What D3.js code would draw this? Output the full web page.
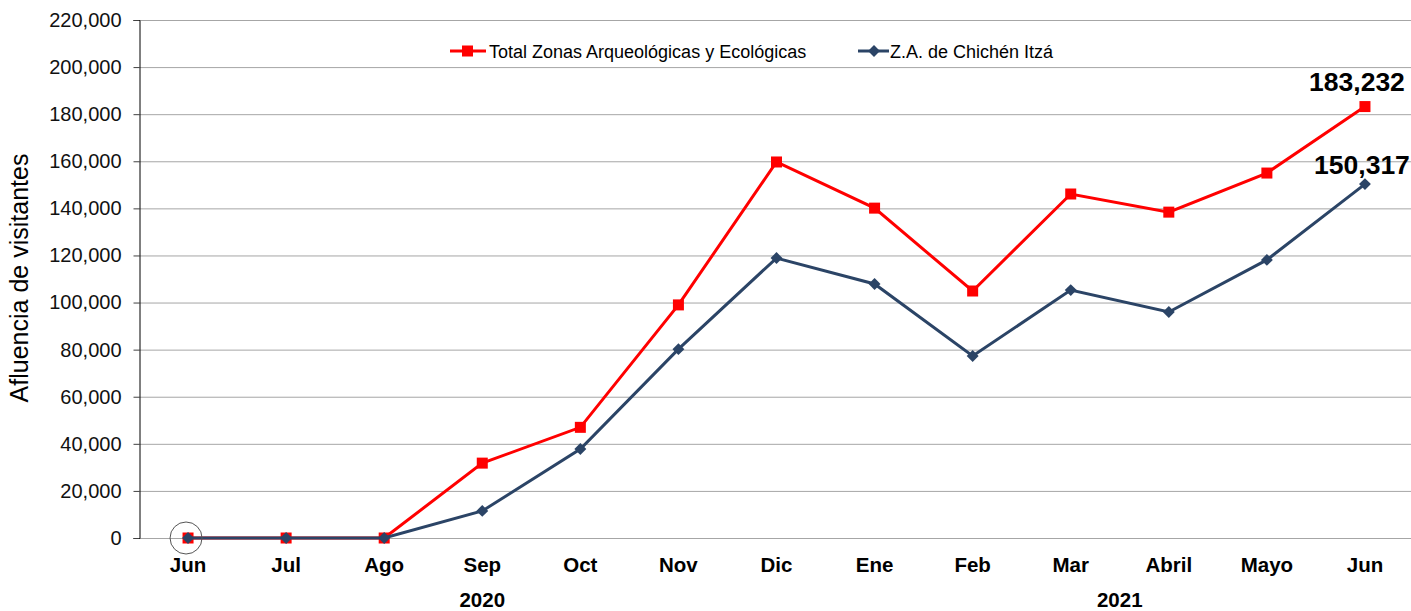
<!DOCTYPE html>
<html>
<head>
<meta charset="utf-8">
<script src="https://cdn.jsdelivr.net/npm/d3@7"></script>
<style>
  body { margin: 0; background: #fff; }
  svg { font-family: "Liberation Sans", Arial, sans-serif; }
</style>
</head>
<body>
<svg id="chart" width="1411" height="611"></svg>
<script>
const months = ['Jun', 'Jul', 'Ago', 'Sep', 'Oct', 'Nov', 'Dic', 'Ene', 'Feb', 'Mar', 'Abril', 'Mayo', 'Jun'];
const monthKeys = months.map((m, i) => i);
const totalZonas = [0, 0, 0, 31800, 47000, 99000, 159700, 140100, 104900, 146100, 138400, 155000, 183232];
const chichenItza = [0, 0, 0, 11500, 37800, 80200, 118900, 107900, 77300, 105300, 96000, 118100, 150317];
const yTicks = d3.range(0, 220001, 20000);
const years = [{label: '2020', at: 3}, {label: '2021', at: 9.5}];
const seriesNames = ['Total Zonas Arqueológicas y Ecológicas', 'Z.A. de Chichén Itzá'];

const svg = d3.select('#chart');
const plotLeft = 139, plotRight = 1414, plotTop = 20, plotBottom = 538;

const x = d3.scaleBand().domain(monthKeys).range([plotLeft, plotRight]);
const cx = i => x(i) + x.bandwidth() / 2;
const y = d3.scaleLinear().domain([0, 220000]).range([plotBottom, plotTop]);
const fmt = d3.format(',');

// gridlines
svg.append('g').selectAll('line')
    .data(yTicks)
    .enter().append('line')
    .attr('x1', plotLeft).attr('x2', plotRight)
    .attr('y1', d => y(d) + 0.5).attr('y2', d => y(d) + 0.5)
    .attr('stroke', '#a6a6a6').attr('stroke-width', 1);

// y axis
const yAxis = svg.append('g')
    .attr('transform', `translate(${plotLeft + 0.5},0)`)
    .call(d3.axisLeft(y).tickValues(yTicks).tickFormat(fmt).tickSize(6).tickPadding(12));
yAxis.select('.domain').attr('stroke', '#000').attr('stroke-width', 1);
yAxis.selectAll('.tick line').attr('stroke', '#404040');
yAxis.selectAll('.tick text').attr('font-size', 20).attr('fill', '#111')
    .attr('font-family', '"Liberation Sans", Arial, sans-serif');

// y title
svg.append('text')
    .attr('transform', 'translate(28,278) rotate(-90)')
    .attr('text-anchor', 'middle')
    .attr('font-size', 25)
    .attr('fill', '#000')
    .text('Afluencia de visitantes');

// x labels
svg.append('g').selectAll('text')
    .data(monthKeys)
    .enter().append('text')
    .attr('x', cx).attr('y', 572)
    .attr('text-anchor', 'middle')
    .attr('font-size', 20.5).attr('font-weight', 'bold')
    .text(i => months[i]);

svg.append('g').selectAll('text')
    .data(years)
    .enter().append('text')
    .attr('x', d => x(Math.floor(d.at)) + x.bandwidth() / 2 + (d.at % 1) * x.bandwidth())
    .attr('y', 607)
    .attr('text-anchor', 'middle')
    .attr('font-size', 20.5).attr('font-weight', 'bold')
    .text(d => d.label);

const line = d3.line().x((d, i) => cx(i)).y(d => y(d));
const red = '#ff0000', navy = '#2b4466';

svg.append('path').datum(totalZonas)
    .attr('d', line).attr('fill', 'none')
    .attr('stroke', red).attr('stroke-width', 3);
svg.append('g').selectAll('rect')
    .data(totalZonas)
    .enter().append('rect')
    .attr('x', (d, i) => cx(i) - 5.5).attr('y', d => y(d) - 5.5)
    .attr('width', 11).attr('height', 11)
    .attr('fill', red);

svg.append('path').datum(chichenItza)
    .attr('d', line).attr('fill', 'none')
    .attr('stroke', navy).attr('stroke-width', 3);
svg.append('g').selectAll('path')
    .data(chichenItza)
    .enter().append('path')
    .attr('d', d3.symbol(d3.symbolDiamond2, 90))
    .attr('transform', (d, i) => `translate(${cx(i)},${y(d)})`)
    .attr('fill', navy);

// circle annotation at first point
svg.append('circle')
    .attr('cx', cx(0) - 2).attr('cy', y(0))
    .attr('r', 16)
    .attr('fill', 'none').attr('stroke', '#555').attr('stroke-width', 1);

// end labels
const last = months.length - 1;
svg.append('text')
    .attr('x', cx(last) - 8).attr('y', y(totalZonas[last]) - 16)
    .attr('text-anchor', 'middle')
    .attr('font-size', 26.5).attr('font-weight', 'bold')
    .text(fmt(totalZonas[last]));
svg.append('text')
    .attr('x', cx(last) - 3).attr('y', y(chichenItza[last]) - 10)
    .attr('text-anchor', 'middle')
    .attr('font-size', 26.5).attr('font-weight', 'bold')
    .text(fmt(chichenItza[last]));

// legend
const legend = svg.append('g').attr('font-size', 18);
const lg1 = legend.append('g').attr('transform', 'translate(450,51)');
lg1.append('line').attr('x1', 0).attr('x2', 36).attr('stroke', red).attr('stroke-width', 3);
lg1.append('rect').attr('x', 12).attr('y', -5.5).attr('width', 11).attr('height', 11).attr('fill', red);
lg1.append('text').attr('x', 39).attr('y', 6.5).text(seriesNames[0]);

const lg2 = legend.append('g').attr('transform', 'translate(858,51)');
lg2.append('line').attr('x1', 0).attr('x2', 31).attr('stroke', navy).attr('stroke-width', 3);
lg2.append('path').attr('d', d3.symbol(d3.symbolDiamond2, 90)).attr('transform', 'translate(16,0)').attr('fill', navy);
lg2.append('text').attr('x', 32).attr('y', 6.5).text(seriesNames[1]);
</script>
</body>
</html>
